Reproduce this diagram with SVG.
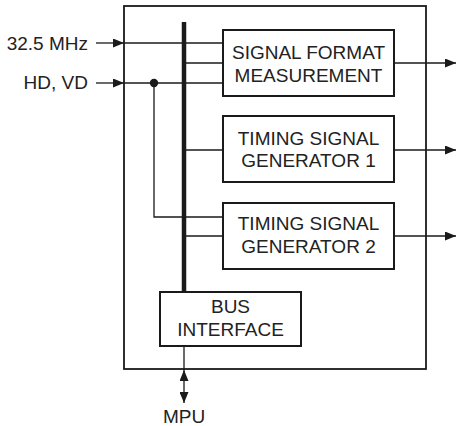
<svg xmlns="http://www.w3.org/2000/svg" width="456" height="426" viewBox="0 0 456 426">
<style>
  .box { fill: #fff; stroke: #1a1a1a; stroke-width: 2; }
  .outer { fill: #fff; stroke: #1a1a1a; stroke-width: 1.8; }
  .wire { fill: none; stroke: #1a1a1a; stroke-width: 1.3; }
  .bus { fill: none; stroke: #1a1a1a; stroke-width: 4.5; }
  text { font-family: "Liberation Sans", Arial, Helvetica, sans-serif; font-size: 19px; fill: #222; }
  .c { text-anchor: middle; }
  .e { text-anchor: end; }
</style>
<defs>
  <marker id="arr" markerUnits="userSpaceOnUse" markerWidth="11" markerHeight="9" refX="11" refY="4.5" orient="auto-start-reverse">
    <path d="M0,0 L11,4.5 L0,9 Z" fill="#1a1a1a"/>
  </marker>
</defs>

<g id="outer-block">
  <rect class="outer" x="124" y="6" width="302" height="363"/>
</g>

<g id="connectors">
  <line class="wire" x1="96" y1="43" x2="124" y2="43" marker-end="url(#arr)"/>
  <line class="wire" x1="124" y1="43" x2="223" y2="43"/>
  <line class="wire" x1="96" y1="83" x2="124" y2="83" marker-end="url(#arr)"/>
  <line class="wire" x1="124" y1="83" x2="223" y2="83"/>
  <polyline class="wire" points="154,83 154,217 223,217"/>
  <circle cx="154" cy="83" r="4.2" fill="#1a1a1a"/>
  <line class="wire" x1="184" y1="63" x2="223" y2="63"/>
  <line class="wire" x1="184" y1="150" x2="223" y2="150"/>
  <line class="wire" x1="184" y1="236" x2="223" y2="236"/>
  <line class="wire" x1="394" y1="63" x2="456" y2="63" marker-end="url(#arr)"/>
  <line class="wire" x1="394" y1="150" x2="456" y2="150" marker-end="url(#arr)"/>
  <line class="wire" x1="394" y1="236" x2="456" y2="236" marker-end="url(#arr)"/>
  <line class="bus" x1="184" y1="22" x2="184" y2="292"/>
  <line class="wire" x1="184" y1="346" x2="184" y2="370"/>
  <line class="wire" x1="184" y1="370" x2="184" y2="403" marker-start="url(#arr)" marker-end="url(#arr)"/>
</g>

<g id="input-labels">
  <text class="e" x="88" y="50">32.5 MHz</text>
  <text class="e" x="88" y="89">HD, VD</text>
</g>

<g id="signal-format-measurement">
  <rect class="box" x="223" y="30" width="171" height="66"/>
  <text class="c" x="308.5" y="59">SIGNAL FORMAT</text>
  <text class="c" x="308.5" y="82">MEASUREMENT</text>
</g>

<g id="timing-signal-generator-1">
  <rect class="box" x="223" y="116" width="171" height="66"/>
  <text class="c" x="308.5" y="145">TIMING SIGNAL</text>
  <text class="c" x="308.5" y="167">GENERATOR 1</text>
</g>

<g id="timing-signal-generator-2">
  <rect class="box" x="223" y="203" width="171" height="66"/>
  <text class="c" x="308.5" y="230">TIMING SIGNAL</text>
  <text class="c" x="308.5" y="253">GENERATOR 2</text>
</g>

<g id="bus-interface">
  <rect class="box" x="160" y="292" width="141" height="54"/>
  <text class="c" x="230.5" y="313">BUS</text>
  <text class="c" x="230.5" y="336">INTERFACE</text>
</g>

<g id="mpu-label">
  <text class="c" x="184" y="423">MPU</text>
</g>
</svg>
